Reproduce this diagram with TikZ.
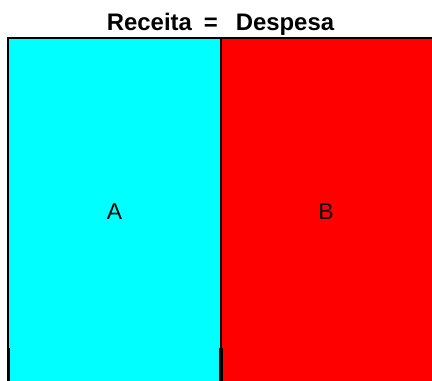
\documentclass[tikz,border=0pt]{standalone}
\usepackage{fontspec}
\setmainfont{Liberation Sans}
\definecolor{aqua}{RGB}{0,255,255}
\definecolor{pure red}{RGB}{255,0,0}
\begin{document}
\begin{tikzpicture}[x=1bp,y=-1bp,
  lab/.style={font=\fontsize{23}{25}\selectfont, inner sep=0pt, anchor=base},
  ttl/.style={font=\bfseries\fontsize{24}{27}\selectfont, inner sep=0pt, anchor=base}]
\useasboundingbox (0,0) rectangle (432,381);
\fill[aqua] (8,38) rectangle (221,381);
\fill[pure red] (221,38) rectangle (432,381);
% borders
\fill[black] (7,37) rectangle (432,38.5);
\fill[black] (7,37) rectangle (9,348);
\fill[black] (7,348) rectangle (10,381);
\fill[black] (220,37) rectangle (222,348);
\fill[black] (219,348) rectangle (223,381);
\node[ttl] (title) at (220.5,30) {Receita\hspace{0.5em}=\hspace{0.75em}Despesa};
\node[lab] (A) at (114.5,219) {A};
\node[lab] (B) at (326,219) {B};
\end{tikzpicture}
\end{document}
